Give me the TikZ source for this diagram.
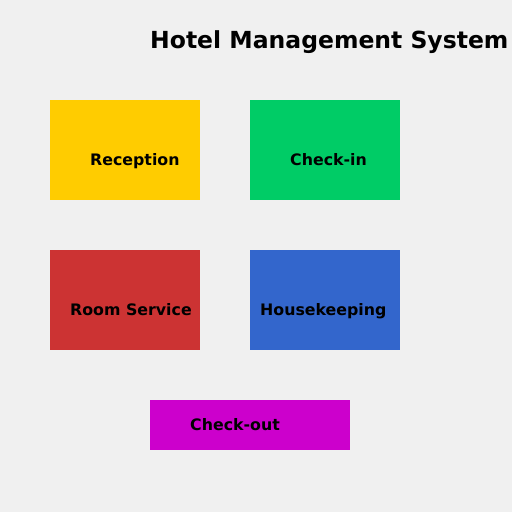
\documentclass[tikz,border=0pt]{standalone}
\usepackage{fontspec}
\setmainfont{DejaVu Sans}
\usepackage{tikz}

\definecolor{bgcolor}{HTML}{F0F0F0}
\definecolor{receptioncolor}{HTML}{FFCC00}
\definecolor{checkincolor}{HTML}{00CC66}
\definecolor{roomcolor}{HTML}{CC3333}
\definecolor{housecolor}{HTML}{3366CC}
\definecolor{checkoutcolor}{HTML}{CC00CC}

\tikzset{
  box/.style={anchor=north west, inner sep=0pt, minimum width=150pt, minimum height=100pt},
  lbl/.style={anchor=base west, inner sep=0pt, font=\bfseries\fontsize{15.8}{19}\selectfont}
}

\begin{document}
\begin{tikzpicture}[x=1pt, y=-1pt]

% Background and page size
\fill[bgcolor] (0,0) rectangle (512,512);
\useasboundingbox (0,0) rectangle (512,512);

% Title
\node[anchor=base west, inner sep=0pt, font=\bfseries\fontsize{23.5}{28}\selectfont] (title) at (150,48.5) {Hotel Management System};

% Draw the boxes
\node[box, fill=receptioncolor] (reception) at (50,100) {};
\node[box, fill=checkincolor] (checkin) at (250,100) {};
\node[box, fill=roomcolor] (roomservice) at (50,250) {};
\node[box, fill=housecolor] (housekeeping) at (250,250) {};
\node[box, fill=checkoutcolor, minimum width=200pt, minimum height=50pt] (checkout) at (150,400) {};

% Label the boxes
\node[lbl] (receptionlbl) at (90,165) {Reception};
\node[lbl] (checkinlbl) at (290,165) {Check-in};
\node[lbl] (roomservicelbl) at (70,315) {Room Service};
\node[lbl] (housekeepinglbl) at (260,315) {Housekeeping};
\node[lbl] (checkoutlbl) at (190,430) {Check-out};

\end{tikzpicture}
\end{document}
